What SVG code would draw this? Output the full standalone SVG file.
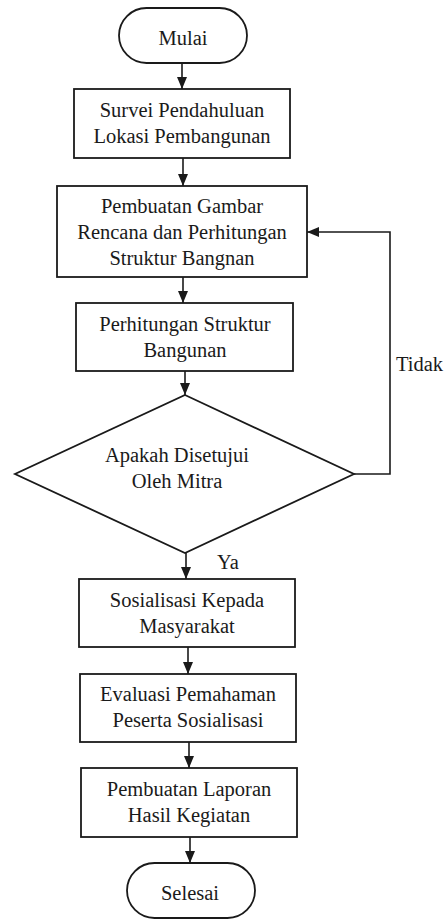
<svg xmlns="http://www.w3.org/2000/svg" width="446" height="919" viewBox="0 0 446 919">
<style>
.s{fill:#fff;stroke:#1a1a1a;stroke-width:1.8}
.c{fill:none;stroke:#1a1a1a;stroke-width:1.6}
text{font-family:'Liberation Serif',Tinos,'DejaVu Serif',serif;font-size:20.5px;fill:#1a1a1a;text-anchor:middle}
.l{text-anchor:start}
</style>
<defs>
<marker id="a" viewBox="0 0 12 10" refX="12" refY="5" markerWidth="12" markerHeight="10" markerUnits="userSpaceOnUse" orient="auto">
<path d="M0,0 L12,5 L0,10 Z" fill="#1a1a1a"/>
</marker>
</defs>
<rect width="446" height="919" fill="#fff"/>
<g id="connectors">
<line class="c" x1="182" y1="63" x2="182" y2="89" marker-end="url(#a)"/>
<line class="c" x1="183" y1="158" x2="183" y2="186" marker-end="url(#a)"/>
<line class="c" x1="183" y1="277" x2="183" y2="303" marker-end="url(#a)"/>
<line class="c" x1="185" y1="371" x2="185" y2="395" marker-end="url(#a)"/>
<polyline class="c" points="354,474 390,474 390,232 307,232" marker-end="url(#a)"/>
<line class="c" x1="186" y1="553" x2="186" y2="579" marker-end="url(#a)"/>
<line class="c" x1="188" y1="647" x2="188" y2="674" marker-end="url(#a)"/>
<line class="c" x1="189" y1="742" x2="189" y2="768" marker-end="url(#a)"/>
<line class="c" x1="190" y1="837" x2="190" y2="863" marker-end="url(#a)"/>
<text class="l" x="396" y="371" font-family="Liberation Serif, serif">Tidak</text>
<text class="l" x="217" y="569" font-family="Liberation Serif, serif">Ya</text>
</g>
<g id="mulai">
<rect class="s" x="119" y="8" width="128" height="55" rx="27.5"/>
<text x="183" y="45">Mulai</text>
</g>
<g id="survei">
<rect class="s" x="74" y="89" width="216" height="69"/>
<text x="182" y="117">Survei Pendahuluan</text>
<text x="182" y="143">Lokasi Pembangunan</text>
</g>
<g id="gambar">
<rect class="s" x="57" y="186" width="250" height="91"/>
<text x="182" y="213">Pembuatan Gambar</text>
<text x="182" y="239">Rencana dan Perhitungan</text>
<text x="182" y="265">Struktur Bangnan</text>
</g>
<g id="perhitungan">
<rect class="s" x="76" y="303" width="217" height="68"/>
<text x="185" y="331">Perhitungan Struktur</text>
<text x="185" y="357">Bangunan</text>
</g>
<g id="keputusan">
<polygon class="s" points="185,395 354,474 185,553 15,474"/>
<text x="177" y="462">Apakah Disetujui</text>
<text x="177" y="488">Oleh Mitra</text>
</g>
<g id="sosialisasi">
<rect class="s" x="79" y="579" width="216" height="68"/>
<text x="187" y="607">Sosialisasi Kepada</text>
<text x="187" y="633">Masyarakat</text>
</g>
<g id="evaluasi">
<rect class="s" x="80" y="674" width="216" height="68"/>
<text x="188" y="701">Evaluasi Pemahaman</text>
<text x="188" y="727">Peserta Sosialisasi</text>
</g>
<g id="laporan">
<rect class="s" x="81" y="768" width="216" height="69"/>
<text x="189" y="796">Pembuatan Laporan</text>
<text x="189" y="822">Hasil Kegiatan</text>
</g>
<g id="selesai">
<rect class="s" x="127" y="863" width="128" height="55" rx="27.5"/>
<text x="190" y="900">Selesai</text>
</g>
</svg>
